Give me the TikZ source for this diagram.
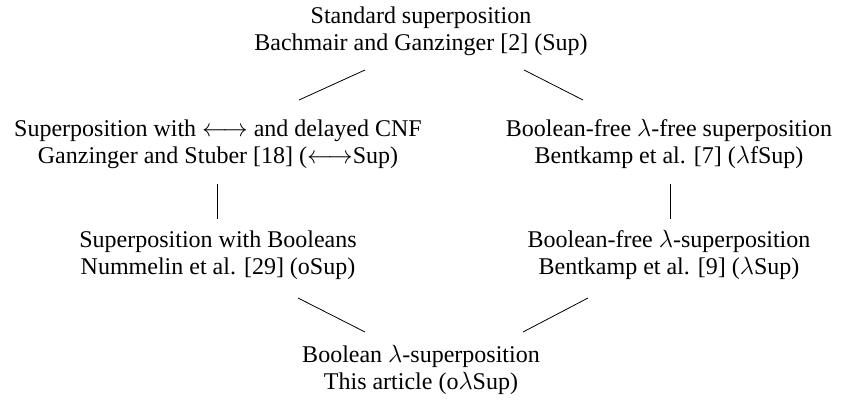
\documentclass[tikz,border=0pt]{standalone}
\usepackage{fontspec}
\setmainfont{Liberation Serif}
\newcommand\lam{\ensuremath{\lambda}}
\begin{document}
\begin{tikzpicture}[x=1pt,y=1pt,
  sysbox/.style={align=center, inner sep=0pt, font=\fontsize{24}{27}\selectfont},
  link/.style={draw=black, line width=0.8pt}]
\useasboundingbox (0,0) rectangle (842,-403);
\node[sysbox] (top) at (421,-32) {\strut Standard superposition\\\strut Bachmair and Ganzinger [2] (Sup)};
\node[sysbox] (lu) at (218,-145) {\strut Superposition with $\longleftrightarrow$ and delayed CNF\\\strut Ganzinger and Stuber [18] ($\longleftrightarrow$Sup)};
\node[sysbox] (ru) at (669,-145) {\strut Boolean-free \lam-free superposition\\\strut Bentkamp et al. [7] (\lam fSup)};
\node[sysbox] (ll) at (218,-256) {\strut Superposition with Booleans\\\strut Nummelin et al. [29] (oSup)};
\node[sysbox] (rl) at (669,-256) {\strut Boolean-free \lam-superposition\\\strut Bentkamp et al. [9] (\lam Sup)};
\node[sysbox] (bot) at (421,-371) {\strut Boolean \lam-superposition\\\strut This article (o\lam Sup)};
\draw[link] ([shift={(-56,-38)}]top.center) -- ([shift={(81,45)}]lu.center);
\draw[link] ([shift={(103,-38)}]top.center) -- ([shift={(-86,45)}]ru.center);
\draw[link] ([shift={(-1,-39)}]lu.center) -- ([shift={(-1,37)}]ll.center);
\draw[link] ([shift={(1,-39)}]ru.center) -- ([shift={(1,37)}]rl.center);
\draw[link] ([shift={(80,-42)}]ll.center) -- ([shift={(-56,39)}]bot.center);
\draw[link] ([shift={(-81,-42)}]rl.center) -- ([shift={(102,39)}]bot.center);
\end{tikzpicture}
\end{document}
